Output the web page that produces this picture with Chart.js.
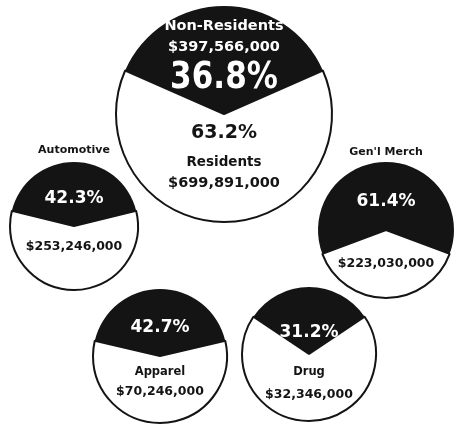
<!DOCTYPE html>
<html>
<head>
<meta charset="utf-8">
<script src="https://cdn.jsdelivr.net/npm/chart.js@4/dist/chart.umd.min.js"></script>
<style>
body { margin: 0; background: #fff; }
#wrap { position: relative; width: 455px; height: 425px; overflow: hidden; }
#wrap canvas { position: absolute; left: 0; top: 0; }
</style>
</head>
<body>
<div id="wrap">
<canvas id="pie0" width="455" height="425"></canvas>
<canvas id="pie1" width="455" height="425"></canvas>
<canvas id="pie2" width="455" height="425"></canvas>
<canvas id="pie3" width="455" height="425"></canvas>
<canvas id="pie4" width="455" height="425"></canvas>
</div>
<script>
// data
var groups = ["All Sales", "Automotive", "Gen'l Merch", "Apparel", "Drug"];
var nonResidentPct = [36.8, 42.3, 61.4, 42.7, 31.2];
var residentPct = [63.2, 57.7, 38.6, 57.3, 68.8];
var nonResidentAmt = ["$397,566,000", "", "", "", ""];
var groupAmt = ["$699,891,000", "$253,246,000", "$223,030,000", "$70,246,000", "$32,346,000"];
var sliceNames = ["Non-Residents", "Residents"];

var BLACK = "#141414";
var FONT = '"DejaVu Sans", "Liberation Sans", sans-serif';

// where each circle sits on the page
var circles = [
	{ x: 224, y: 114, r: 109 },
	{ x: 74, y: 226, r: 65 },
	{ x: 386, y: 230, r: 69 },
	{ x: 160, y: 356, r: 68 },
	{ x: 309, y: 354, r: 68 }
];

function pct(v) { return v.toFixed(1) + "%"; }

// text lines for each circle: offset from the centre, colour, size, squeeze
var lines = [
	[
		{ t: sliceNames[0], dy: -88, c: "#fff", s: 14.5, k: 1 },
		{ t: nonResidentAmt[0], dy: -67, c: "#fff", s: 14.5, k: 1 },
		{ t: pct(nonResidentPct[0]), dy: -36, c: "#fff", s: 37, k: 0.84 },
		{ t: pct(residentPct[0]), dy: 19, c: BLACK, s: 19, k: 1 },
		{ t: sliceNames[1], dy: 48, c: BLACK, s: 13.5, k: 1 },
		{ t: groupAmt[0], dy: 69, c: BLACK, s: 14.5, k: 1 }
	],
	[
		{ t: groups[1], dy: -76, c: BLACK, s: 11, k: 1 },
		{ t: pct(nonResidentPct[1]), dy: -27, c: "#fff", s: 17, k: 1 },
		{ t: groupAmt[1], dy: 21, c: BLACK, s: 12.5, k: 1 }
	],
	[
		{ t: groups[2], dy: -78, c: BLACK, s: 11, k: 1 },
		{ t: pct(nonResidentPct[2]), dy: -28, c: "#fff", s: 17, k: 1 },
		{ t: groupAmt[2], dy: 34, c: BLACK, s: 12.5, k: 1 }
	],
	[
		{ t: pct(nonResidentPct[3]), dy: -28, c: "#fff", s: 17, k: 1 },
		{ t: groups[3], dy: 16, c: BLACK, s: 11.5, k: 1 },
		{ t: groupAmt[3], dy: 36, c: BLACK, s: 12.5, k: 1 }
	],
	[
		{ t: pct(nonResidentPct[4]), dy: -21, c: "#fff", s: 17, k: 1 },
		{ t: groups[4], dy: 18, c: BLACK, s: 11.5, k: 1 },
		{ t: groupAmt[4], dy: 41, c: BLACK, s: 12.5, k: 1 }
	]
];

// draws the text lines around the pie centre
var sliceText = {
	id: "sliceText",
	afterDraw: function(chart, args, opts) {
		var ctx = chart.ctx;
		var arc = chart.getDatasetMeta(0).data[0];
		ctx.save();
		ctx.textAlign = "center";
		ctx.textBaseline = "middle";
		opts.lines.forEach(function(l) {
			ctx.save();
			ctx.font = "bold " + l.s + "px " + FONT;
			ctx.fillStyle = l.c;
			ctx.translate(arc.x, arc.y + l.dy);
			ctx.scale(l.k, 1);
			ctx.fillText(l.t, 0, 0);
			ctx.restore();
		});
		ctx.restore();
	}
};

for (var i = 0; i < groups.length; i++) {
	var c = circles[i];
	new Chart(document.getElementById("pie" + i), {
		type: "pie",
		data: {
			labels: sliceNames,
			datasets: [{
				label: groups[i],
				data: [nonResidentPct[i], residentPct[i]],
				backgroundColor: [BLACK, "#fff"],
				borderColor: BLACK,
				borderWidth: [0, 2],
				hoverOffset: 0
			}]
		},
		options: {
			responsive: false,
			animation: false,
			events: [],
			// black slice centred on the top of the circle
			rotation: -nonResidentPct[i] * 1.8,
			layout: {
				padding: {
					left: c.x - c.r,
					top: c.y - c.r,
					right: 455 - c.x - c.r,
					bottom: 425 - c.y - c.r
				}
			},
			plugins: {
				legend: { display: false },
				tooltip: { enabled: false },
				sliceText: { lines: lines[i] }
			}
		},
		plugins: [sliceText]
	});
}
</script>
</body>
</html>
